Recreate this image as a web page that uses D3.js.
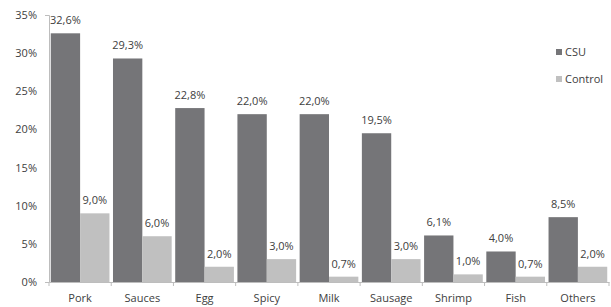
<!DOCTYPE html>
<html>
<head>
<meta charset="utf-8">
<script src="https://cdn.jsdelivr.net/npm/d3@7"></script>
<style>
  body { margin: 0; background: #fff; }
  text { font-family: "Open Sans", sans-serif; fill: #404040; }
</style>
</head>
<body>
<div id="chart"></div>
<script>
// Settings
const SIZE = [611, 307]
const MARGIN = {top: 15, right: 2, bottom: 25, left: 49}
const PLOT_RIGHT = 609

// Data
const categories = ["Pork", "Sauces", "Egg", "Spicy", "Milk", "Sausage", "Shrimp", "Fish", "Others"]
const seriesNames = ["CSU", "Control"]
const csuValues = [32.6, 29.3, 22.8, 22.0, 22.0, 19.5, 6.1, 4.0, 8.5]
const controlValues = [9.0, 6.0, 2.0, 3.0, 0.7, 3.0, 1.0, 0.7, 2.0]
const yTicks = [0, 5, 10, 15, 20, 25, 30, 35]
const colors = ["#757578", "#c0c0c0"]

const fmt = v => d3.format(".1f")(v).replace(".", ",") + "%"

const svg = d3.select("#chart").append("svg")
  .attr("width", SIZE[0])
  .attr("height", SIZE[1])

const x = d3.scaleBand()
  .domain(categories)
  .range([MARGIN.left, PLOT_RIGHT])
  .paddingInner(0)
  .paddingOuter(0)

const xInner = d3.scaleBand()
  .domain(seriesNames)
  .range([0, x.bandwidth()])
  .paddingOuter(0.06)
  .paddingInner(0)

const y = d3.scaleLinear()
  .domain([0, 35])
  .range([SIZE[1] - MARGIN.bottom, MARGIN.top])

const rows = categories.map((c, i) => ({cat: c, values: [csuValues[i], controlValues[i]]}))

// Bars
const groups = svg.append("g")
  .selectAll("g")
  .data(rows)
  .join("g")
    .attr("transform", d => `translate(${x(d.cat)},0)`)

groups.selectAll("rect")
  .data(d => d.values.map((v, i) => ({name: seriesNames[i], value: v})))
  .join("rect")
    .attr("x", d => xInner(d.name))
    .attr("width", xInner.bandwidth())
    .attr("y", d => y(d.value))
    .attr("height", d => y(0) - y(d.value))
    .attr("fill", (d, i) => colors[i])

groups.selectAll("text")
  .data(d => d.values.map((v, i) => ({name: seriesNames[i], value: v})))
  .join("text")
    .attr("x", d => xInner(d.name) + xInner.bandwidth() / 2)
    .attr("y", d => y(d.value) - 9)
    .attr("text-anchor", "middle")
    .attr("font-size", 11)
    .text(d => fmt(d.value))

// Y axis
svg.append("g")
  .attr("transform", `translate(${MARGIN.left},0)`)
  .call(d3.axisLeft(y).tickValues(yTicks).tickSize(0).tickSizeOuter(4).tickPadding(12)
    .tickFormat(d => d + "%"))
  .call(g => g.select(".domain").attr("stroke", "#bdbdbd"))
  .call(g => g.selectAll(".tick text").attr("font-size", 11).attr("fill", "#404040"))

// X axis
svg.append("g")
  .attr("transform", `translate(0,${y(0)})`)
  .call(d3.axisBottom(x).tickSize(0).tickSizeOuter(0).tickPadding(12))
  .call(g => g.select(".domain").attr("stroke", "#bdbdbd"))
  .call(g => g.selectAll(".tick text").attr("font-size", 11).attr("fill", "#404040"))

// boundary ticks between categories
svg.append("g")
  .selectAll("line")
  .data(categories.map(c => x(c)).concat([x(categories[categories.length - 1]) + x.bandwidth()]))
  .join("line")
    .attr("x1", d => d)
    .attr("x2", d => d)
    .attr("y1", y(0))
    .attr("y2", y(0) + 4)
    .attr("stroke", "#bdbdbd")

// Legend
const legend = svg.append("g")
  .attr("transform", "translate(556,48)")
  .selectAll("g")
  .data(seriesNames)
  .join("g")
    .attr("transform", (d, i) => `translate(0,${i * 27})`)

legend.append("rect")
  .attr("width", 6)
  .attr("height", 6)
  .attr("y", 1)
  .attr("fill", (d, i) => colors[i])

legend.append("text")
  .attr("x", 9)
  .attr("y", 4)
  .attr("dy", "0.35em")
  .attr("font-size", 11)
  .text(d => d)
</script>
</body>
</html>
